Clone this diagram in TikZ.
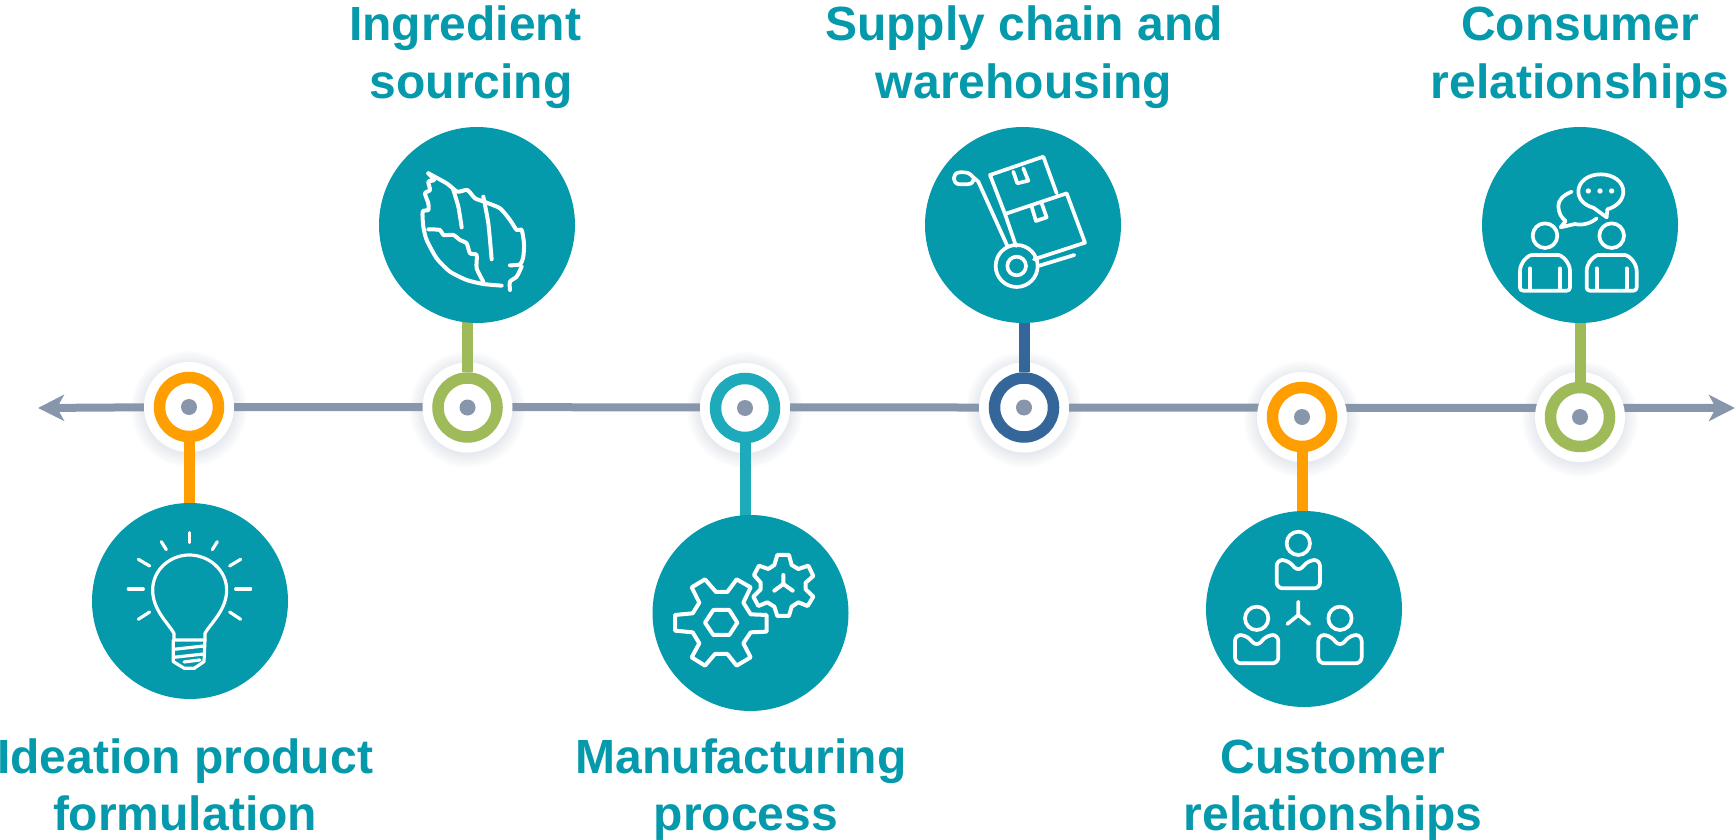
\documentclass[tikz,border=0pt]{standalone}
\usepackage{fontspec}
\setmainfont{Liberation Sans}
\usetikzlibrary{arrows.meta,backgrounds}

\definecolor{teal1}{HTML}{0499AB}
\definecolor{orange1}{HTML}{FF9E00}
\definecolor{green1}{HTML}{9FBA58}
\definecolor{cyan1}{HTML}{1DABBB}
\definecolor{navy1}{HTML}{356699}
\definecolor{axis1}{HTML}{8896AC}

\begin{document}
\begin{tikzpicture}[x=1pt,y=-1pt]
   \tikzset{
   disc/.style={circle,fill=teal1,minimum size=196pt,inner sep=0pt},
   ring/.style={circle,draw=#1,fill=white,line width=11.5pt,minimum size=59pt,inner sep=0pt},
   dot/.style={circle,fill=axis1,minimum size=16pt,inner sep=0pt},
   halo/.style={circle,fill=white,minimum size=90pt,inner sep=0pt},
   title/.style={text=teal1,font=\fontsize{48}{57.5}\selectfont\bfseries,align=center,anchor=base},
   icon/.style={draw=white,line width=3.7pt,line cap=round,line join=round},
   zoomed/.style={shift={#1},x=0.3333pt,y=-0.3333pt},
   user/.pic={
      \draw[icon] (0,0) circle (35);
      \draw[icon,rounded corners=6pt] (-65,50) -- (-65,135) -- (65,135) -- (65,50) -- (32,50) -- (0,85) -- (-32,50) -- cycle;
   },
   talker/.pic={
      \draw[icon] (0,0) circle (37);
      \draw[icon,rounded corners=3pt] (-75,115) .. controls (-75,80) and (-50,58) .. (-30,58) -- (30,58) .. controls (50,58) and (75,80) .. (75,115) -- (75,165) -- (-75,165) -- cycle;
      \draw[icon] (-45,98) -- (-45,163);
      \draw[icon] (45,98) -- (45,163);
   }
   };
\useasboundingbox (0,0) rectangle (1735,840);

\coordinate (al) at (38,408);
\coordinate (ar) at (1735,408);

%Rings and discs--------------------------

\foreach \i/\xr/\yr/\xc/\yc/\colr in {1/189/407/190/601/orange1, 2/467.5/407.5/477/225/green1, 3/745/408/750.5/613/cyan1, 4/1024/407.5/1023/225/navy1, 5/1302/417/1304/609/orange1, 6/1580/417/1580/225/green1}{
    \node[ring=\colr] (r\i) at (\xr,\yr) {};
    \node[dot] (d\i) at (\xr,\yr) {};
    \node[disc] (c\i) at (\xc,\yc) {};
}

%Axis, halos, stems----------------------

\begin{scope}[on background layer]
\draw[axis1,line width=8pt,-{Stealth[length=26pt,width=26pt,inset=7pt]}] (r1) -- (al);
\draw[axis1,line width=8pt,-{Stealth[length=26pt,width=26pt,inset=7pt]}] (r1) -- (ar);
\foreach \i/\colr in {1/orange1,2/green1,3/cyan1,4/navy1,5/orange1,6/green1}{
    \foreach \s in {58,56,...,46}{
        \fill[axis1,opacity=0.03] (r\i) ++(0,2) circle (\s);
    }
    \node[halo] (h\i) at (r\i) {};
}
\foreach \i/\colr in {1/orange1,3/cyan1,5/orange1}{
    \draw[\colr,line width=11pt] (r\i.south) -- (r\i.south |- c\i);
}
\foreach \i/\colr in {2/green1,4/navy1,6/green1}{
    \draw[\colr,line width=11pt] (r\i.north) -- (r\i.north |- c\i);
}
\end{scope}

%Bulb-----------------

\begin{scope}[zoomed={(0,340)},icon/.append style={line width=3.2pt}]
\draw[icon] (568,578) -- (568,608);
\draw[icon] (484,605) -- (499,629);
\draw[icon] (652,605) -- (637,629);
\draw[icon] (415,658) -- (449,678);
\draw[icon] (722,658) -- (689,678);
\draw[icon] (385,747) -- (430,747);
\draw[icon] (707,747) -- (752,747);
\draw[icon] (415,838) -- (449,816);
\draw[icon] (722,838) -- (689,816);
\draw[icon] (522,900) -- (522,880) .. controls (505,850) and (458,810) .. (458,750) .. controls (458,690) and (510,645) .. (568,645) .. controls (626,645) and (680,690) .. (680,750) .. controls (680,810) and (632,850) .. (615,880) -- (615,900);
\draw[icon] (520,900) -- (615,900) -- (612,965) -- (583,985) -- (553,985) -- (520,965) -- cycle;
\draw[icon] (522,928) -- (612,918);
\draw[icon] (522,952) -- (612,942);
\draw[icon] (552,966) -- (600,960);
\end{scope}

%Leaf-----------------

\begin{scope}[zoomed={(360,140)},icon/.append style={line width=4pt}]
\draw[icon] plot[smooth,tension=0.4] coordinates {(205,100) (260,130) (292,155) (322,150) (345,175) (372,185) (420,205) (450,240) (470,270) (485,270) (492,310) (490,350) (480,373) (450,376)};
\draw[icon] plot[smooth,tension=0.4] coordinates {(485,380) (470,410) (450,425) (450,450)};
\draw[icon] plot[smooth,tension=0.4] coordinates {(205,100) (222,120) (205,125) (210,150) (195,160) (205,190) (205,210) (188,215) (190,260) (200,300) (230,355) (270,395) (320,420) (370,432) (425,437)};
\draw[icon] plot[smooth,tension=0.4] coordinates {(205,268) (240,270) (250,285) (280,285) (300,300) (320,310) (330,340) (350,345) (350,385) (370,425)};
\draw[icon] plot[smooth,tension=0.4] coordinates {(280,150) (295,200) (305,262)};
\draw[icon] plot[smooth,tension=0.4] coordinates {(370,170) (385,250) (395,358)};
\end{scope}

%Gears-----------------

\begin{scope}[zoomed={(640,500)},icon/.append style={line width=4pt}]
\draw[icon] (105,345) -- (158,340) -- (178,308) -- (155,262) -- (195,238) -- (228,276) -- (262,276) -- (290,238) -- (332,262) -- (310,308) -- (332,343) -- (380,345) -- (380,395) -- (332,397) -- (310,430) -- (332,472) -- (290,497) -- (262,462) -- (225,462) -- (195,497) -- (155,472) -- (178,430) -- (158,397) -- (105,392) -- cycle;
\draw[icon] (195,368) -- (220,330) -- (268,330) -- (292,368) -- (268,405) -- (220,405) -- cycle;
\draw[icon] (412,165) -- (447,165) -- (455,195) -- (475,207) -- (505,197) -- (520,228) -- (497,248) -- (497,268) -- (520,290) -- (503,318) -- (475,307) -- (455,320) -- (447,348) -- (412,348) -- (403,320) -- (382,307) -- (355,318) -- (340,290) -- (362,268) -- (362,248) -- (342,225) -- (357,197) -- (385,207) -- (403,195) -- cycle;
\draw[icon] (430,225) -- (430,252) -- (403,272);
\draw[icon] (430,252) -- (458,272);
\end{scope}

%Trolley-----------------

\begin{scope}[zoomed={(910,140)}]
\draw[icon] (190,112) .. controls (175,97) .. (150,97) .. controls (125,97) and (125,133) .. (150,133) -- (172,133) .. controls (190,133) and (192,118) .. (190,112) -- (205,125) -- (292,318);
\draw[icon] (318,318) -- (285,222) -- (240,105) -- (400,50) -- (440,160);
\draw[icon] (285,222) -- (470,160) -- (525,308) -- (372,358);
\draw[icon] (310,95) -- (322,130) -- (355,122) -- (340,85);
\draw[icon] (365,200) -- (378,243) -- (410,232) -- (395,190);
\draw[icon] (320,378) circle (63);
\draw[icon] (320,378) circle (28);
\draw[icon] (385,378) -- (493,345);
\end{scope}

%Team-----------------

\begin{scope}[zoomed={(1200,500)}]
\pic at (295,130) {user};
\pic at (170,355) {user};
\pic at (420,355) {user};
\draw[icon] (295,305) -- (295,345) -- (262,372);
\draw[icon] (295,345) -- (328,372);
\end{scope}

%Talk-----------------

\begin{scope}[zoomed={(1470,140)}]
\pic at (225,287) {talker};
\pic at (425,287) {talker};
\draw[icon] (370,203) -- (410,232) -- (412,208) .. controls (440,200) and (460,180) .. (460,155) .. controls (460,125) and (430,103) .. (392,103) .. controls (354,103) and (325,125) .. (325,155) .. controls (325,178) and (345,197) .. (370,203);
\draw[icon] (305,155) .. controls (280,165) and (265,180) .. (265,198) .. controls (265,218) and (275,235) .. (287,243) -- (272,262) -- (315,252) .. controls (340,258) and (365,248) .. (380,235);
\fill[white] (355,153) circle (8);
\fill[white] (390,153) circle (8);
\fill[white] (425,153) circle (8);
\end{scope}

%Titles-----------------

\node[title] (t1) at (185,830.5) {Ideation product\\formulation};
\node[title] (t2) at (465,98.5) {Ingredient\\\hspace*{12pt}sourcing};
\node[title] (t3) at (741,830.5) {Manufacturing\\\hspace*{10pt}process};
\node[title] (t4) at (1024,98.5) {Supply chain and\\warehousing};
\node[title] (t5) at (1333,830.5) {Customer\\relationships};
\node[title] (t6) at (1580,98.5) {Consumer\\relationships};

\end{tikzpicture}
\end{document}
